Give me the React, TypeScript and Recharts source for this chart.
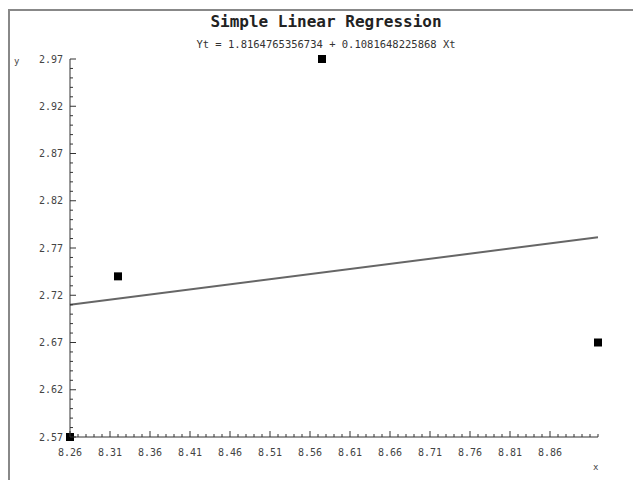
import React from 'react';
import { ScatterChart, Scatter, XAxis, YAxis, ZAxis, ReferenceLine } from 'recharts';

// observed points
const xValues = [8.26, 8.32, 8.575, 8.92];
const yValues = [2.57, 2.74, 2.97, 2.67];

// fitted line: Yt = a + b * Xt
const intercept = 1.8164765356734;
const slope = 0.1081648225868;

const xTickLabels = [8.26, 8.31, 8.36, 8.41, 8.46, 8.51, 8.56, 8.61, 8.66, 8.71, 8.76, 8.81, 8.86];
const yTickLabels = [2.57, 2.62, 2.67, 2.72, 2.77, 2.82, 2.87, 2.92, 2.97];
const xDomain = [8.26, 8.92];
const yDomain = [2.57, 2.97];

// minor ticks every 0.01
const xMinor = Array.from({ length: 67 }, (_, i) => +(8.26 + i * 0.01).toFixed(2));
const yMinor = Array.from({ length: 41 }, (_, i) => +(2.57 + i * 0.01).toFixed(2));

const points = xValues.map((x, i) => ({ x, y: yValues[i] }));
const fitted = xDomain.map((x) => ({ x, y: intercept + slope * x }));

const MONO = '"DejaVu Sans Mono", "Liberation Mono", monospace';
const AXIS = '#333';
const Y_MARGIN = 7;
const X_MARGIN = 12;

const isMajor = (list: number[], v: number) => list.some((t) => Math.abs(t - v) < 1e-6);

const YTick = (props: any) => {
  const { x, y, payload } = props;
  const v = payload.value as number;
  const major = isMajor(yTickLabels, v);
  const ax = x + Y_MARGIN;
  return (
    <g>
      <line x1={ax} x2={ax + (major ? 6 : 3)} y1={y} y2={y} stroke={AXIS} />
      {major && (
        <text x={x} y={y} dy="0.35em" textAnchor="end" fontSize={10} fontFamily={MONO} fill="#444">
          {v.toFixed(2)}
        </text>
      )}
    </g>
  );
};

const XTick = (props: any) => {
  const { x, y, payload } = props;
  const v = payload.value as number;
  const major = isMajor(xTickLabels, v);
  const ay = y - X_MARGIN;
  return (
    <g>
      <line x1={x} x2={x} y1={ay} y2={ay - (major ? 6 : 3)} stroke={AXIS} />
      {major && (
        <text x={x} y={y} dy="0.71em" textAnchor="middle" fontSize={10} fontFamily={MONO} fill="#444">
          {v.toFixed(2)}
        </text>
      )}
    </g>
  );
};

export default function App() {
  return (
    <div style={{ position: 'absolute', left: 0, top: 0, width: 633, height: 480, background: '#fff', overflow: 'hidden' }}>
      <div
        style={{
          position: 'absolute', left: 8, top: 9, width: 640, height: 480,
          borderTop: '2px solid #888', borderLeft: '2px solid #888',
        }}
      />
      <div
        style={{
          position: 'absolute', left: 126, top: 14, width: 400, textAlign: 'center',
          fontFamily: MONO, fontWeight: 'bold', fontSize: 16, lineHeight: '16px', color: '#222',
        }}
      >
        Simple Linear Regression
      </div>
      <div
        style={{
          position: 'absolute', left: 126, top: 39, width: 400, textAlign: 'center',
          fontFamily: MONO, fontSize: 10.5, lineHeight: '10px', color: '#333',
        }}
      >
        Yt = 1.8164765356734 + 0.1081648225868 Xt
      </div>
      <div style={{ position: 'absolute', left: 14, top: 56, fontFamily: MONO, fontSize: 9, lineHeight: '10px', color: '#444' }}>
        y
      </div>
      <div style={{ position: 'absolute', left: 593, top: 462, fontFamily: MONO, fontSize: 9, lineHeight: '10px', color: '#444' }}>
        x
      </div>
      <ScatterChart width={633} height={480} margin={{ top: 59, right: 35, bottom: 0, left: 0 }} style={{ position: 'absolute', left: 0, top: 0 }}>
        <XAxis
          type="number"
          dataKey="x"
          domain={xDomain}
          ticks={xMinor}
          interval={0}
          height={43}
          tickSize={0}
          tickMargin={X_MARGIN}
          tickLine={false}
          tick={<XTick />}
          axisLine={{ stroke: AXIS }}
        />
        <YAxis
          type="number"
          dataKey="y"
          domain={yDomain}
          ticks={yMinor}
          interval={0}
          width={70}
          tickSize={0}
          tickMargin={Y_MARGIN}
          tickLine={false}
          tick={<YTick />}
          axisLine={{ stroke: AXIS }}
        />
        <ZAxis range={[72, 72]} />
        <ReferenceLine
          segment={[fitted[0], fitted[1]]}
          stroke="#666"
          strokeWidth={2}
          ifOverflow="visible"
        />
        <Scatter data={points} fill="#000" shape="square" isAnimationActive={false} />
      </ScatterChart>
    </div>
  );
}
